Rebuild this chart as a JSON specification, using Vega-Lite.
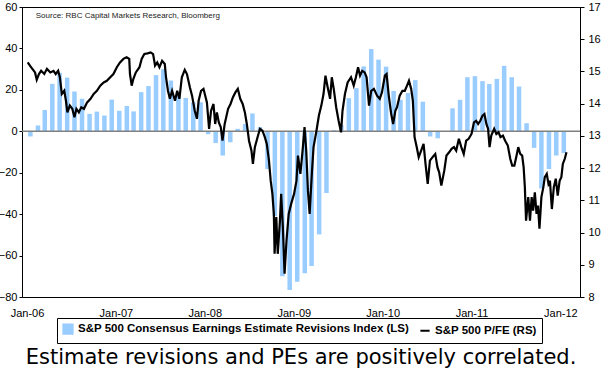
{
  "$schema": "https://vega.github.io/schema/vega-lite/v6.json",
  "width": 558,
  "height": 290,
  "autosize": {"type": "none"},
  "padding": {"left": 22, "top": 7, "right": 22, "bottom": 87},
  "background": "white",
  "config": {
    "view": {"stroke": "#000000", "strokeWidth": 1},
    "font": "Liberation Sans",
    "axis": {"labelFont": "Liberation Sans", "labelFontSize": 11, "labelColor": "#000000", "domainColor": "#000000", "tickColor": "#000000", "grid": false}
  },
  "title": {"text": "Estimate revisions and PEs are positively correlated.", "orient": "bottom", "anchor": "middle", "frame": "group", "font": "'Comic Sans MS', 'DejaVu Sans'", "fontSize": 21, "fontWeight": "normal", "color": "#000000", "offset": 3},
  "datasets": {
    "revisions": [
      {"date": "2006-01-15", "value": -2.5}, {"date": "2006-02-15", "value": 2.8}, {"date": "2006-03-15", "value": 10.3}, {"date": "2006-04-15", "value": 22.9},
      {"date": "2006-05-15", "value": 28.2}, {"date": "2006-06-15", "value": 25.9}, {"date": "2006-07-15", "value": 19.2}, {"date": "2006-08-15", "value": 15.7},
      {"date": "2006-09-15", "value": 8.4}, {"date": "2006-10-15", "value": 9.5}, {"date": "2006-11-15", "value": 7.6}, {"date": "2006-12-15", "value": 15.3},
      {"date": "2007-01-15", "value": 9.9}, {"date": "2007-02-15", "value": 12.2}, {"date": "2007-03-15", "value": 9.6}, {"date": "2007-04-15", "value": 18.9},
      {"date": "2007-05-15", "value": 21.8}, {"date": "2007-06-15", "value": 27.1}, {"date": "2007-07-15", "value": 30}, {"date": "2007-08-15", "value": 24.5},
      {"date": "2007-09-15", "value": 17}, {"date": "2007-10-15", "value": 16.1}, {"date": "2007-11-15", "value": 14}, {"date": "2007-12-15", "value": 14},
      {"date": "2008-01-15", "value": -1.4}, {"date": "2008-02-15", "value": -5.7}, {"date": "2008-03-15", "value": -11.7}, {"date": "2008-04-15", "value": -5.3},
      {"date": "2008-05-15", "value": 1.2}, {"date": "2008-06-15", "value": 3.5}, {"date": "2008-07-15", "value": 8.6}, {"date": "2008-08-15", "value": 2},
      {"date": "2008-09-15", "value": -18.2}, {"date": "2008-10-15", "value": -41}, {"date": "2008-11-15", "value": -70}, {"date": "2008-12-15", "value": -76.6},
      {"date": "2009-01-15", "value": -72.6}, {"date": "2009-02-15", "value": -68.5}, {"date": "2009-03-15", "value": -65}, {"date": "2009-04-15", "value": -49.8},
      {"date": "2009-05-15", "value": -29.8}, {"date": "2009-06-15", "value": 0.5}, {"date": "2009-07-15", "value": 3}, {"date": "2009-08-15", "value": 16},
      {"date": "2009-09-15", "value": 20.8}, {"date": "2009-10-15", "value": 31.3}, {"date": "2009-11-15", "value": 39.7}, {"date": "2009-12-15", "value": 34.6},
      {"date": "2010-01-15", "value": 31.2}, {"date": "2010-02-15", "value": 19.5}, {"date": "2010-03-15", "value": 15.2}, {"date": "2010-04-15", "value": 18.5},
      {"date": "2010-05-15", "value": 24.7}, {"date": "2010-06-15", "value": 14.3}, {"date": "2010-07-15", "value": -2.5}, {"date": "2010-08-15", "value": -3.4},
      {"date": "2010-10-15", "value": 11.1}, {"date": "2010-11-15", "value": 15.2}, {"date": "2010-12-15", "value": 26.1},
      {"date": "2011-01-15", "value": 26.6}, {"date": "2011-02-15", "value": 24.2}, {"date": "2011-03-15", "value": 22.8}, {"date": "2011-04-15", "value": 25.3},
      {"date": "2011-05-15", "value": 31.6}, {"date": "2011-06-15", "value": 26.1}, {"date": "2011-07-15", "value": 21.6}, {"date": "2011-08-15", "value": 3.9},
      {"date": "2011-09-15", "value": -8}, {"date": "2011-10-15", "value": -27.6}, {"date": "2011-11-15", "value": -18.2}, {"date": "2011-12-15", "value": -11.7},
      {"date": "2012-01-15", "value": -10.5}
    ],
    "pe": [
      {"date": "2006-01-04", "pe": 15.28}, {"date": "2006-01-13", "pe": 15.18}, {"date": "2006-01-23", "pe": 15.08}, {"date": "2006-02-03", "pe": 14.97},
      {"date": "2006-02-10", "pe": 14.74}, {"date": "2006-02-19", "pe": 14.92}, {"date": "2006-02-28", "pe": 15.02}, {"date": "2006-03-13", "pe": 14.92},
      {"date": "2006-03-24", "pe": 15.08}, {"date": "2006-04-07", "pe": 14.97}, {"date": "2006-04-20", "pe": 15.02}, {"date": "2006-04-29", "pe": 14.92},
      {"date": "2006-05-09", "pe": 15.02}, {"date": "2006-05-16", "pe": 14.82}, {"date": "2006-05-24", "pe": 14.30}, {"date": "2006-06-03", "pe": 14.40},
      {"date": "2006-06-10", "pe": 14.09}, {"date": "2006-06-16", "pe": 13.73}, {"date": "2006-06-26", "pe": 13.94}, {"date": "2006-07-06", "pe": 13.84},
      {"date": "2006-07-15", "pe": 13.58}, {"date": "2006-07-23", "pe": 13.84}, {"date": "2006-08-02", "pe": 13.73}, {"date": "2006-08-12", "pe": 13.89},
      {"date": "2006-08-23", "pe": 13.84}, {"date": "2006-09-05", "pe": 14.04}, {"date": "2006-09-19", "pe": 14.15}, {"date": "2006-10-02", "pe": 14.30},
      {"date": "2006-10-15", "pe": 14.40}, {"date": "2006-10-29", "pe": 14.56}, {"date": "2006-11-12", "pe": 14.66}, {"date": "2006-11-25", "pe": 14.71},
      {"date": "2006-12-09", "pe": 14.82}, {"date": "2006-12-22", "pe": 14.92}, {"date": "2007-01-05", "pe": 15.13}, {"date": "2007-01-18", "pe": 15.28},
      {"date": "2007-02-01", "pe": 15.39}, {"date": "2007-02-14", "pe": 15.44}, {"date": "2007-02-25", "pe": 15.39}, {"date": "2007-02-28", "pe": 14.92},
      {"date": "2007-03-07", "pe": 14.56}, {"date": "2007-03-14", "pe": 14.77}, {"date": "2007-03-24", "pe": 14.97}, {"date": "2007-04-08", "pe": 15.13},
      {"date": "2007-04-17", "pe": 15.39}, {"date": "2007-04-28", "pe": 15.54}, {"date": "2007-05-11", "pe": 15.56}, {"date": "2007-05-24", "pe": 15.59},
      {"date": "2007-06-03", "pe": 15.54}, {"date": "2007-06-11", "pe": 15.18}, {"date": "2007-06-20", "pe": 15.28}, {"date": "2007-06-29", "pe": 15.13},
      {"date": "2007-07-10", "pe": 15.33}, {"date": "2007-07-21", "pe": 15.23}, {"date": "2007-07-26", "pe": 14.82}, {"date": "2007-08-03", "pe": 14.40},
      {"date": "2007-08-11", "pe": 14.15}, {"date": "2007-08-20", "pe": 14.40}, {"date": "2007-09-01", "pe": 14.09}, {"date": "2007-09-10", "pe": 14.40},
      {"date": "2007-09-19", "pe": 14.15}, {"date": "2007-09-29", "pe": 14.82}, {"date": "2007-10-11", "pe": 15.05}, {"date": "2007-10-20", "pe": 14.92},
      {"date": "2007-11-01", "pe": 14.51}, {"date": "2007-11-10", "pe": 14.25}, {"date": "2007-11-21", "pe": 13.78}, {"date": "2007-11-30", "pe": 13.53},
      {"date": "2007-12-07", "pe": 14.09}, {"date": "2007-12-17", "pe": 14.40}, {"date": "2007-12-27", "pe": 14.46}, {"date": "2008-01-10", "pe": 14.04},
      {"date": "2008-01-19", "pe": 13.22}, {"date": "2008-01-27", "pe": 13.78}, {"date": "2008-02-06", "pe": 13.99}, {"date": "2008-02-13", "pe": 13.37},
      {"date": "2008-02-20", "pe": 13.73}, {"date": "2008-02-28", "pe": 13.42}, {"date": "2008-03-07", "pe": 13.27}, {"date": "2008-03-14", "pe": 12.85},
      {"date": "2008-03-23", "pe": 13.37}, {"date": "2008-04-06", "pe": 13.84}, {"date": "2008-04-16", "pe": 13.99}, {"date": "2008-04-26", "pe": 14.20},
      {"date": "2008-05-06", "pe": 14.35}, {"date": "2008-05-16", "pe": 14.46}, {"date": "2008-05-26", "pe": 14.15}, {"date": "2008-06-05", "pe": 13.99},
      {"date": "2008-06-14", "pe": 13.73}, {"date": "2008-06-22", "pe": 13.37}, {"date": "2008-07-01", "pe": 12.85}, {"date": "2008-07-11", "pe": 12.54},
      {"date": "2008-07-17", "pe": 12.13}, {"date": "2008-07-25", "pe": 12.65}, {"date": "2008-08-05", "pe": 12.96}, {"date": "2008-08-15", "pe": 13.22},
      {"date": "2008-08-25", "pe": 13.16}, {"date": "2008-09-04", "pe": 12.96}, {"date": "2008-09-12", "pe": 12.75}, {"date": "2008-09-21", "pe": 12.23},
      {"date": "2008-09-28", "pe": 11.61}, {"date": "2008-10-05", "pe": 11.20}, {"date": "2008-10-11", "pe": 10.58}, {"date": "2008-10-14", "pe": 9.34},
      {"date": "2008-10-21", "pe": 10.48}, {"date": "2008-10-27", "pe": 9.34}, {"date": "2008-11-05", "pe": 10.37}, {"date": "2008-11-10", "pe": 11.20},
      {"date": "2008-11-17", "pe": 10.17}, {"date": "2008-11-24", "pe": 8.72}, {"date": "2008-12-02", "pe": 9.75}, {"date": "2008-12-11", "pe": 10.58},
      {"date": "2008-12-21", "pe": 10.89}, {"date": "2009-01-02", "pe": 11.20}, {"date": "2009-01-12", "pe": 11.61}, {"date": "2009-01-18", "pe": 12.39},
      {"date": "2009-01-28", "pe": 11.82}, {"date": "2009-02-06", "pe": 12.54}, {"date": "2009-02-14", "pe": 13.27}, {"date": "2009-02-21", "pe": 12.54},
      {"date": "2009-02-28", "pe": 11.30}, {"date": "2009-03-07", "pe": 10.58}, {"date": "2009-03-16", "pe": 11.82}, {"date": "2009-03-23", "pe": 12.65},
      {"date": "2009-04-04", "pe": 13.16}, {"date": "2009-04-14", "pe": 13.63}, {"date": "2009-04-24", "pe": 13.94}, {"date": "2009-05-03", "pe": 14.30},
      {"date": "2009-05-11", "pe": 14.87}, {"date": "2009-05-20", "pe": 14.51}, {"date": "2009-05-30", "pe": 14.15}, {"date": "2009-06-06", "pe": 14.82},
      {"date": "2009-06-14", "pe": 14.46}, {"date": "2009-06-24", "pe": 13.89}, {"date": "2009-07-04", "pe": 13.47}, {"date": "2009-07-14", "pe": 13.11},
      {"date": "2009-07-20", "pe": 13.78}, {"date": "2009-07-30", "pe": 14.30}, {"date": "2009-08-10", "pe": 14.66}, {"date": "2009-08-24", "pe": 14.82},
      {"date": "2009-09-04", "pe": 14.56}, {"date": "2009-09-13", "pe": 14.82}, {"date": "2009-09-22", "pe": 15.13}, {"date": "2009-09-30", "pe": 14.87},
      {"date": "2009-10-09", "pe": 15.02}, {"date": "2009-10-19", "pe": 14.97}, {"date": "2009-10-27", "pe": 14.82}, {"date": "2009-11-06", "pe": 13.94},
      {"date": "2009-11-15", "pe": 14.40}, {"date": "2009-11-26", "pe": 14.46}, {"date": "2009-12-09", "pe": 14.25}, {"date": "2009-12-20", "pe": 14.15},
      {"date": "2009-12-29", "pe": 14.35}, {"date": "2010-01-10", "pe": 14.87}, {"date": "2010-01-17", "pe": 14.92}, {"date": "2010-01-26", "pe": 14.25},
      {"date": "2010-02-05", "pe": 13.68}, {"date": "2010-02-13", "pe": 13.37}, {"date": "2010-02-22", "pe": 13.78}, {"date": "2010-03-01", "pe": 13.89},
      {"date": "2010-03-12", "pe": 14.25}, {"date": "2010-03-23", "pe": 14.40}, {"date": "2010-04-02", "pe": 14.40}, {"date": "2010-04-11", "pe": 14.56},
      {"date": "2010-04-19", "pe": 14.71}, {"date": "2010-04-28", "pe": 14.46}, {"date": "2010-05-05", "pe": 14.09}, {"date": "2010-05-12", "pe": 12.96},
      {"date": "2010-05-21", "pe": 12.65}, {"date": "2010-05-29", "pe": 12.34}, {"date": "2010-06-08", "pe": 12.54}, {"date": "2010-06-18", "pe": 12.75},
      {"date": "2010-06-26", "pe": 12.13}, {"date": "2010-07-05", "pe": 11.51}, {"date": "2010-07-14", "pe": 12.23}, {"date": "2010-07-25", "pe": 12.34},
      {"date": "2010-08-05", "pe": 12.44}, {"date": "2010-08-14", "pe": 12.03}, {"date": "2010-08-21", "pe": 11.87}, {"date": "2010-08-30", "pe": 11.46},
      {"date": "2010-09-11", "pe": 11.92}, {"date": "2010-09-20", "pe": 12.39}, {"date": "2010-10-01", "pe": 12.49}, {"date": "2010-10-11", "pe": 12.60},
      {"date": "2010-10-21", "pe": 12.65}, {"date": "2010-10-30", "pe": 12.54}, {"date": "2010-11-10", "pe": 12.91}, {"date": "2010-11-20", "pe": 12.65},
      {"date": "2010-11-30", "pe": 12.44}, {"date": "2010-12-10", "pe": 12.85}, {"date": "2010-12-20", "pe": 12.91}, {"date": "2011-01-01", "pe": 13.06},
      {"date": "2011-01-11", "pe": 13.42}, {"date": "2011-01-20", "pe": 13.47}, {"date": "2011-01-28", "pe": 13.37}, {"date": "2011-02-06", "pe": 13.47},
      {"date": "2011-02-15", "pe": 13.63}, {"date": "2011-02-23", "pe": 13.68}, {"date": "2011-03-03", "pe": 13.37}, {"date": "2011-03-10", "pe": 13.22},
      {"date": "2011-03-16", "pe": 12.65}, {"date": "2011-03-23", "pe": 13.01}, {"date": "2011-04-04", "pe": 13.22}, {"date": "2011-04-13", "pe": 13.06},
      {"date": "2011-04-22", "pe": 13.11}, {"date": "2011-04-30", "pe": 12.96}, {"date": "2011-05-10", "pe": 13.01}, {"date": "2011-05-19", "pe": 12.85},
      {"date": "2011-05-30", "pe": 12.70}, {"date": "2011-06-09", "pe": 12.29}, {"date": "2011-06-17", "pe": 12.08}, {"date": "2011-06-26", "pe": 12.08},
      {"date": "2011-07-05", "pe": 12.39}, {"date": "2011-07-12", "pe": 12.65}, {"date": "2011-07-20", "pe": 12.44}, {"date": "2011-07-28", "pe": 12.39},
      {"date": "2011-08-03", "pe": 12.03}, {"date": "2011-08-08", "pe": 11.41}, {"date": "2011-08-13", "pe": 10.37}, {"date": "2011-08-22", "pe": 11.10},
      {"date": "2011-08-29", "pe": 10.37}, {"date": "2011-09-05", "pe": 11.10}, {"date": "2011-09-11", "pe": 10.68}, {"date": "2011-09-18", "pe": 11.25},
      {"date": "2011-09-25", "pe": 10.58}, {"date": "2011-10-01", "pe": 10.84}, {"date": "2011-10-07", "pe": 10.12}, {"date": "2011-10-15", "pe": 11.10},
      {"date": "2011-10-23", "pe": 11.41}, {"date": "2011-10-29", "pe": 11.72}, {"date": "2011-11-06", "pe": 11.82}, {"date": "2011-11-13", "pe": 11.51},
      {"date": "2011-11-19", "pe": 11.61}, {"date": "2011-11-27", "pe": 10.73}, {"date": "2011-12-05", "pe": 11.41}, {"date": "2011-12-13", "pe": 11.67},
      {"date": "2011-12-21", "pe": 11.15}, {"date": "2011-12-29", "pe": 11.61}, {"date": "2012-01-05", "pe": 11.72}, {"date": "2012-01-11", "pe": 12.13},
      {"date": "2012-01-19", "pe": 12.29}, {"date": "2012-01-26", "pe": 12.49}
    ]
  },
  "layer": [
    {
      "layer": [
        {
          "data": {"name": "revisions"},
          "mark": {"type": "bar", "size": 4.5},
          "encoding": {
            "x": {
              "field": "date", "type": "temporal", "title": null,
              "scale": {"type": "utc", "domain": [{"year": 2006, "month": 1, "date": 1, "utc": true}, {"year": 2012, "month": 3, "date": 1, "utc": true}]},
              "axis": {
                "values": [
                  {"year": 2006, "month": 1, "date": 1, "utc": true}, {"year": 2007, "month": 1, "date": 1, "utc": true},
                  {"year": 2008, "month": 1, "date": 1, "utc": true}, {"year": 2009, "month": 1, "date": 1, "utc": true},
                  {"year": 2010, "month": 1, "date": 1, "utc": true}, {"year": 2011, "month": 1, "date": 1, "utc": true},
                  {"year": 2012, "month": 1, "date": 1, "utc": true}
                ],
                "labelExpr": "utcFormat(datum.value, '%b-%y')", "tickSize": 0, "labelPadding": 10, "domain": false, "labelOverlap": false, "labelFlush": false
              }
            },
            "y": {
              "field": "value", "type": "quantitative", "title": null,
              "scale": {"domain": [-80, 60], "nice": false, "zero": false},
              "axis": {"values": [-80, -60, -40, -20, 0, 20, 40, 60], "tickSize": 3, "labelPadding": 2, "domain": true}
            },
            "color": {
              "datum": "S&P 500 Consensus Earnings Estimate Revisions Index (LS)",
              "scale": {"domain": ["S&P 500 Consensus Earnings Estimate Revisions Index (LS)", "S&P 500 P/FE (RS)"], "range": ["#99ccff", "#000000"]},
              "legend": {
                "orient": "none", "legendX": 35, "legendY": 311, "direction": "horizontal", "title": null,
                "strokeColor": "#000000", "fillColor": "#ffffff", "padding": 5,
                "labelFont": "Liberation Sans", "labelFontWeight": "bold", "labelFontSize": 11.5, "labelColor": "#000000", "labelLimit": 600,
                "symbolSize": 85, "columnPadding": 6,
                "encode": {
                  "symbols": {
                    "update": {
                      "shape": {"signal": "datum.value === 'S&P 500 P/FE (RS)' ? 'stroke' : 'square'"},
                      "fill": {"signal": "datum.value === 'S&P 500 P/FE (RS)' ? 'transparent' : '#99ccff'"},
                      "stroke": {"signal": "datum.value === 'S&P 500 P/FE (RS)' ? '#000000' : 'transparent'"},
                      "strokeWidth": {"value": 2},
                      "opacity": {"value": 1}
                    }
                  }
                }
              }
            }
          }
        },
        {
          "data": {"values": [{}]},
          "mark": {"type": "rule", "color": "#808080", "strokeWidth": 1.5},
          "encoding": {"y": {"datum": 0}}
        },
        {
          "data": {"values": [{}]},
          "mark": {"type": "text", "align": "left", "baseline": "middle", "fontSize": 8, "font": "Liberation Sans", "color": "#222222"},
          "encoding": {
            "x": {"datum": {"year": 2006, "month": 2, "date": 6, "utc": true}},
            "y": {"datum": 55.5},
            "text": {"value": "Source: RBC Capital Markets Research, Bloomberg"}
          }
        }
      ]
    },
    {
      "data": {"name": "pe"},
      "mark": {"type": "line", "strokeWidth": 2.2, "interpolate": "linear"},
      "encoding": {
        "x": {
          "field": "date", "type": "temporal", "title": null,
          "axis": {
            "values": [
              {"year": 2006, "month": 1, "date": 1, "utc": true}, {"year": 2007, "month": 1, "date": 1, "utc": true},
              {"year": 2008, "month": 1, "date": 1, "utc": true}, {"year": 2009, "month": 1, "date": 1, "utc": true},
              {"year": 2010, "month": 1, "date": 1, "utc": true}, {"year": 2011, "month": 1, "date": 1, "utc": true},
              {"year": 2012, "month": 1, "date": 1, "utc": true}
            ],
            "labelExpr": "utcFormat(datum.value, '%b-%y')", "tickSize": 0, "labelPadding": 10, "domain": false, "labelOverlap": false, "labelFlush": false
          }
        },
        "y": {
          "field": "pe", "type": "quantitative", "title": null,
          "scale": {"domain": [8, 17], "nice": false, "zero": false},
          "axis": {"orient": "right", "values": [8, 9, 10, 11, 12, 13, 14, 15, 16, 17], "tickSize": 4, "labelPadding": 4, "domain": true}
        },
        "color": {"datum": "S&P 500 P/FE (RS)"}
      }
    }
  ],
  "resolve": {"scale": {"y": "independent"}}
}
